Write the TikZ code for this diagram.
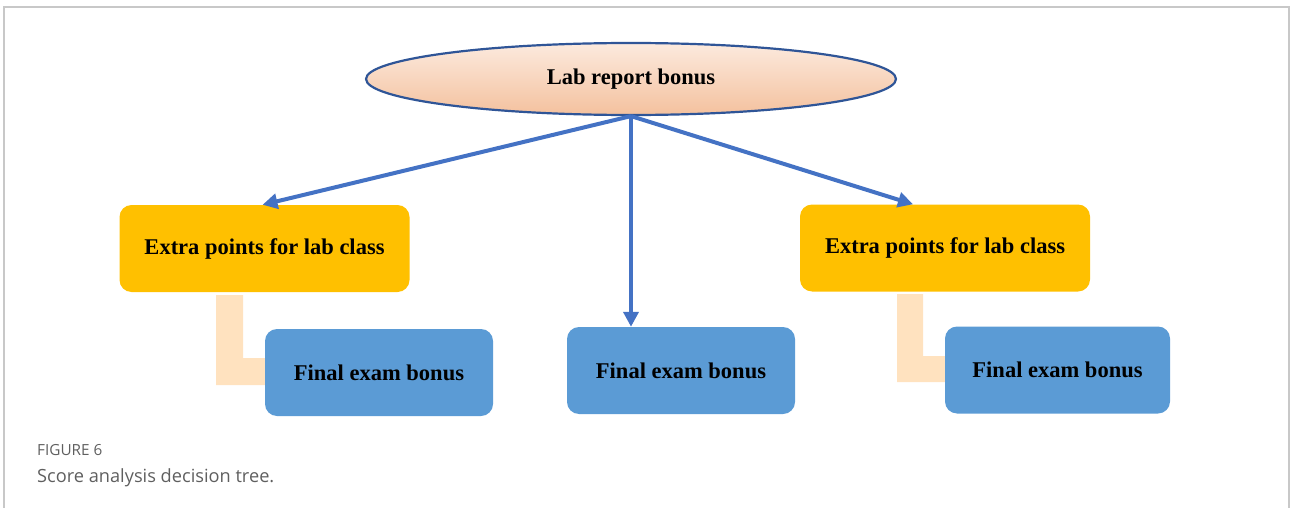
\documentclass[tikz,border=0pt]{standalone}
\usepackage{fontspec}
\setmainfont{Liberation Serif}
\newfontfamily\capfont{Open Sans}
\usetikzlibrary{shapes.geometric,arrows.meta}

\definecolor{framegray}{RGB}{200,200,200}
\definecolor{ovaltop}{RGB}{252,234,222}
\definecolor{ovalbot}{RGB}{244,193,158}
\definecolor{ovalline}{RGB}{47,85,151}
\definecolor{extraorange}{RGB}{255,192,0}
\definecolor{finalblue}{RGB}{91,155,213}
\definecolor{linkpeach}{RGB}{255,226,191}
\definecolor{arrowblue}{RGB}{68,114,196}
\definecolor{capgray}{RGB}{95,95,95}

\tikzset{
	oval/.style={ellipse,draw=ovalline,line width=2.2pt,top color=ovaltop,bottom color=ovalbot,
		minimum width=530pt,minimum height=72pt,inner sep=0pt,
		font=\fontsize{22.5}{27}\selectfont\bfseries},
	extrabox/.style={rectangle,rounded corners=12pt,fill=extraorange,
		minimum width=290pt,minimum height=87pt,font=\fontsize{22.5}{27}\selectfont\bfseries},
	finalbox/.style={rectangle,rounded corners=12pt,fill=finalblue,
		minimum width=228pt,minimum height=87pt,font=\fontsize{22.5}{27}\selectfont\bfseries},
	arr/.style={draw=arrowblue,line width=4pt,-{Triangle[length=15pt,width=15pt]}},
	link/.style={fill=linkpeach}
}

\begin{document}
\begin{tikzpicture}[x=1pt,y=-1pt]
	\useasboundingbox (0,0) rectangle (1290,508);
	% frame
	\draw[framegray,line width=1.5pt] (4,510)--(4,7)--(1289,7)--(1289,510);

	\node[oval] (lab) at (631,79) {Lab report bonus};

	\node[extrabox] (lextra) at (264.5,248.5) {Extra points for lab class};
	\node[extrabox] (rextra) at (945,248) {Extra points for lab class};

	\node[finalbox] (lfinal) at (379,372.5) {Final exam bonus};
	\node[finalbox] (cfinal) at (681,370.5) {Final exam bonus};
	\node[finalbox,minimum width=225pt] (rfinal) at (1057.5,370) {Final exam bonus};

	% L links
	\fill[link] (216,295)--(243,295)--(243,358)--(lfinal.west |- 0,358)--(lfinal.west |- 0,385)--(216,385)--cycle;
	\fill[link] (897,294)--(923,294)--(923,356)--(rfinal.west |- 0,356)--(rfinal.west |- 0,382)--(897,382)--cycle;

	% arrows
	\draw[arr] (lab.south) -- ([xshift=-2pt]lextra.north);
	\draw[arr] (lab.south) -- ([xshift=-50pt]cfinal.north);
	\draw[arr] (lab.south) -- ([xshift=-32pt]rextra.north);

	% caption
	\node[anchor=base west,inner sep=0pt,text=capgray,font=\capfont\fontsize{15.3}{18}\selectfont] (fig) at (37,455) {FIGURE 6};
	\node[anchor=base west,inner sep=0pt,text=capgray,font=\capfont\fontsize{18.2}{22}\selectfont] (cap) at (37,482) {Score analysis decision tree.};
\end{tikzpicture}
\end{document}
